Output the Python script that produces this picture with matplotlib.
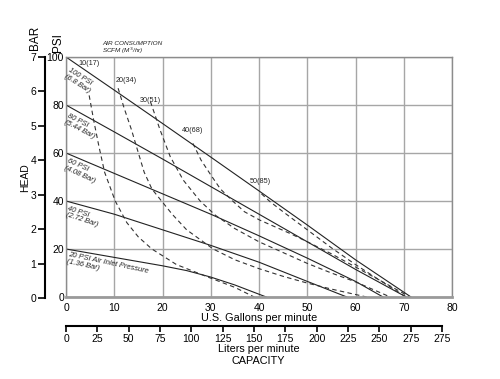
import numpy as np
import matplotlib.pyplot as plt

plt.rcParams['font.family'] = ['Liberation Sans', 'DejaVu Sans']

# head curves: flow (US gpm) vs discharge head (psi) for each air inlet pressure
gpm_100 = [0, 10, 20, 30, 40, 50, 60, 71.5]
psi_100 = [100, 86.2, 72.3, 58.3, 44.2, 30, 15.5, 0]
gpm_80 = [0, 10, 20, 30, 40, 50, 60, 70.5]
psi_80 = [80, 68.8, 57.5, 46, 34.5, 23, 11.5, 0]
gpm_60 = [0, 10, 20, 30, 40, 50, 60, 65.7]
psi_60 = [60, 51.5, 43, 34.5, 25.5, 16.2, 6.5, 0]
gpm_40 = [0, 10, 20, 30, 40, 50, 58.2]
psi_40 = [40, 34.5, 28, 21.5, 14.5, 6.5, 0]
gpm_20 = [0, 10, 20, 25, 30, 35, 41.5]
psi_20 = [20, 16.5, 13, 11, 8.3, 5, 0]

# air consumption curves (SCFM)
gpm_a10 = [4.8, 5.8, 6.8, 8.0, 10.2, 12.6, 15, 17.8, 22.9, 29.8, 35, 39]
psi_a10 = [84, 73, 63, 52, 40, 31, 25, 20, 13.5, 8, 4, 0]
gpm_a20 = [10.8, 12, 13.6, 15, 16.2, 17.8, 19.8, 22, 25, 30.5, 35, 40, 45, 50, 55, 62.3]
psi_a20 = [87, 79, 69.5, 60, 52, 45, 40, 34.5, 28, 20, 15.5, 11.8, 8.6, 5.8, 3.3, 0]
gpm_a30 = [17.5, 19.5, 21.6, 24.3, 27.8, 31, 35, 40, 45, 50, 55, 60, 67.2]
psi_a30 = [81.4, 69.6, 58.5, 48.7, 40, 34, 28.5, 23, 18.5, 14, 10, 6.3, 0]
gpm_a40 = [26.3, 28, 29.8, 32, 34.7, 37, 40.2, 46.4, 50, 55, 60, 65, 70.5]
psi_a40 = [64, 57, 51.5, 45, 39.7, 35.5, 32, 26.5, 23, 18, 12.5, 7, 0]
gpm_a50 = [40.5, 42.3, 45, 50, 55, 60, 65, 71.3]
psi_a50 = [43, 39.7, 35.5, 28, 20.5, 13.5, 7, 0]

gpm_ticks = [0, 10, 20, 30, 40, 50, 60, 70, 80]
psi_ticks = [0, 20, 40, 60, 80, 100]
bar_ticks = [0, 1, 2, 3, 4, 5, 6, 7]
lpm_ticks = [0, 25, 50, 75, 100, 125, 150, 175, 200, 225, 250, 275, 300]
lpm_labels = ['0', '25', '50', '75', '100', '125', '150', '175', '200', '225', '250', '275', '275']

fig = plt.figure(figsize=(5.0, 3.79), dpi=100)

ax = fig.add_axes([0.132, 0.2164, 0.772, 0.6332])
ax.set_xlim(0, 80)
ax.set_ylim(0, 100)
ax.set_xticks(gpm_ticks)
ax.set_yticks(psi_ticks)
ax.grid(True, color='#a6a6a6', linewidth=1.0)
ax.set_axisbelow(True)
ax.tick_params(length=0, labelsize=7.5, pad=1.5)
ax.tick_params(axis='x', pad=4)
for s in ['top', 'right', 'left']:
    ax.spines[s].set_color('#8c8c8c')
    ax.spines[s].set_linewidth(1.0)
ax.spines['bottom'].set_color('#9a9a9a')
ax.spines['bottom'].set_linewidth(2.0)
ax.set_xlabel('U.S. Gallons per minute', fontsize=7.8, labelpad=0)

lw = 0.8
for gx, gy in [(gpm_100, psi_100), (gpm_80, psi_80), (gpm_60, psi_60),
               (gpm_40, psi_40), (gpm_20, psi_20)]:
    ax.plot(gx, gy, color='#222222', linewidth=lw)
for gx, gy in [(gpm_a10, psi_a10), (gpm_a20, psi_a20), (gpm_a30, psi_a30),
               (gpm_a40, psi_a40), (gpm_a50, psi_a50)]:
    ax.plot(gx, gy, color='#333333', linewidth=lw, dashes=(4, 3))

# curve labels
small = dict(fontsize=5.2, color='#222222')
ax.text(7.5, 105.6, 'AIR CONSUMPTION', fontsize=4.6, style='italic', va='center', color='#222222')
ax.text(7.5, 102.7, 'SCFM (M$^3$/hr)', fontsize=4.6, style='italic', va='center', color='#222222')
ax.text(2.5, 97.5, '10(17)', va='center', **small)
ax.text(10.4, 90, '20(34)', va='center', **small)
ax.text(15.3, 81.7, '30(51)', va='center', **small)
ax.text(24.0, 69.4, '40(68)', va='center', **small)
ax.text(38.1, 48.1, '50(85)', va='center', **small)

ital = dict(fontsize=5.4, style='italic', color='#222222', ha='left', va='top',
            rotation_mode='anchor', linespacing=1.0)
ax.text(1.0, 95.8, '100 PSI\n(6.8 Bar)', rotation=-32, **ital)
ax.text(0.6, 77.0, '80 PSI\n(5.44 Bar)', rotation=-27, **ital)
ax.text(0.6, 58.0, '60 PSI\n(4.08 Bar)', rotation=-24, **ital)
ax.text(0.6, 38.3, '40 PSI\n(2.72 Bar)', rotation=-18, **ital)
ax.text(0.6, 19.2, '20 PSI Air Inlet Pressure\n(1.36 Bar)', rotation=-12, **ital)

# bar scale on the far left
axb = fig.add_axes([0.089, 0.2138, 0.0001, 0.6358])
axb.set_ylim(0, 7)
axb.set_yticks(bar_ticks)
axb.set_xticks([])
for s in ['top', 'right', 'bottom']:
    axb.spines[s].set_visible(False)
axb.spines['left'].set_linewidth(1.5)
axb.tick_params(axis='y', length=5, width=1.2, labelsize=7.5, pad=1)

# liters per minute scale underneath
axl = fig.add_axes([0.132, 0.1398, 0.752, 0.0001])
axl.set_xlim(0, 300)
axl.set_xticks(lpm_ticks)
axl.set_xticklabels(lpm_labels)
axl.set_yticks([])
for s in ['top', 'right', 'left']:
    axl.spines[s].set_visible(False)
axl.spines['bottom'].set_linewidth(1.5)
axl.tick_params(axis='x', length=4.5, width=1.2, labelsize=7.5, pad=1.5)

fig.text(258.5 / 500, 1 - 349 / 379, 'Liters per minute', fontsize=7.8, ha='center', va='center')
fig.text(258.5 / 500, 1 - 361.5 / 379, 'CAPACITY', fontsize=7.8, ha='center', va='center')
fig.text(35 / 500, 1 - 38 / 379, 'BAR', fontsize=8.5, rotation=90, ha='center', va='center')
fig.text(57.5 / 500, 1 - 42.5 / 379, 'PSI', fontsize=8.5, rotation=90, ha='center', va='center')
fig.text(25 / 500, 1 - 178 / 379, 'HEAD', fontsize=7.5, rotation=90, ha='center', va='center')

fig.savefig('out.png', dpi=100)
